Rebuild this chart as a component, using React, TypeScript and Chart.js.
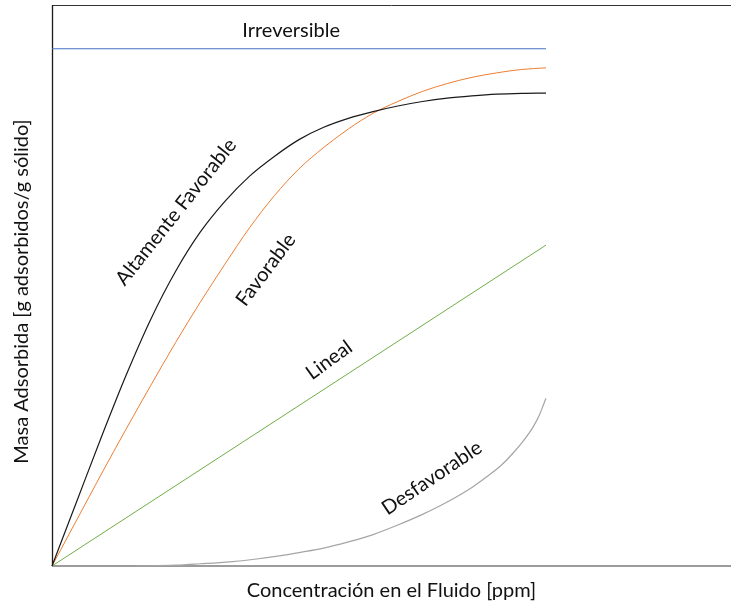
import React, { useEffect, useRef } from "react";
import { Chart, registerables } from "chart.js";

Chart.register(...registerables);

// Concentration (x) in relative units (0–100 spans the curves), mass adsorbed (y) 0–100
const altamenteX = [0, 5, 10, 15, 20, 25, 30, 35, 40, 45, 50, 55, 60, 65, 70, 75, 80, 85, 90, 95, 100];
const altamenteY = [0, 11.5, 23, 34, 44, 52.5, 59.5, 65, 69.5, 73, 76, 78.2, 79.8, 81, 82, 82.8, 83.4, 83.8, 84.1, 84.25, 84.3];

const favorableX = [0, 5, 10, 15, 20, 25, 30, 35, 40, 45, 50, 55, 60, 65, 70, 75, 80, 85, 90, 95, 100];
const favorableY = [0, 8.2, 16.4, 24.4, 32.2, 39.8, 47, 53.8, 60.3, 66, 70.8, 74.6, 77.9, 80.7, 82.8, 84.6, 86, 87.1, 87.9, 88.5, 88.8];

const linealX = [0, 100];
const linealY = [0, 57.2];

const desfavorableX = [17, 25, 30, 36, 41, 46, 50, 55, 60, 65, 70, 75, 80, 85, 88, 91, 93.3, 95.5, 97.4, 98.8, 99.5, 100];
const desfavorableY = [0, 0.15, 0.4, 0.75, 1.2, 1.8, 2.4, 3.2, 4.3, 5.6, 7.3, 9.2, 11.4, 14.0, 15.9, 18.0, 20.1, 22.4, 24.8, 27.2, 28.8, 29.9];

const irreversibleX = [0, 100];
const irreversibleY = [92.2, 92.2];

const X_MAX = 137.45;
const Y_MAX = 100;

const labelTexts = ["Altamente Favorable", "Favorable", "Lineal", "Desfavorable", "Irreversible"];
const labelX = [25.1, 43.3, 56.1, 76.9, 48.4];
const labelY = [63.1, 52.8, 36.7, 15.7, 95.4];
const labelAngle = [-51.5, -53, -36, -34, 0];

const xTitle = "Concentración en el Fluido [ppm]";
const yTitle = "Masa Adsorbida [g adsorbidos/g sólido]";

const FONT = "Lato, 'Open Sans', sans-serif";

const pts = (xs: number[], ys: number[]) => xs.map((x, i) => ({ x, y: ys[i] }));

const decorations = {
  id: "decorations",
  beforeDatasetsDraw(chart: any) {
    const { ctx, chartArea } = chart;
    const { left, right, top, bottom } = chartArea;
    ctx.save();
    ctx.strokeStyle = "#333333";
    ctx.lineWidth = 1;
    ctx.beginPath();
    ctx.moveTo(left, top + 0.5);
    ctx.lineTo(right, top + 0.5);
    ctx.stroke();
    ctx.strokeStyle = "#1a1a1a";
    ctx.lineWidth = 1.3;
    ctx.beginPath();
    ctx.moveTo(left + 0.5, top);
    ctx.lineTo(left + 0.5, bottom);
    ctx.stroke();
    ctx.strokeStyle = "#7a7a7a";
    ctx.lineWidth = 1.6;
    ctx.beginPath();
    ctx.moveTo(left, bottom);
    ctx.lineTo(right, bottom);
    ctx.stroke();
    ctx.restore();
  },
  afterDraw(chart: any) {
    const { ctx, chartArea, scales } = chart;
    const { left, right, top, bottom } = chartArea;
    ctx.save();
    ctx.fillStyle = "#111111";
    ctx.textAlign = "center";
    ctx.textBaseline = "middle";
    ctx.font = `20px ${FONT}`;
    labelTexts.forEach((t, i) => {
      const px = scales.x.getPixelForValue(labelX[i]);
      const py = scales.y.getPixelForValue(labelY[i]);
      ctx.save();
      ctx.translate(px, py);
      ctx.rotate((labelAngle[i] * Math.PI) / 180);
      ctx.fillText(t, 0, 0);
      ctx.restore();
    });
    ctx.fillText(xTitle, (left + right) / 2, bottom + 25);
    ctx.save();
    ctx.translate(22, (top + bottom) / 2 + 6);
    ctx.rotate(-Math.PI / 2);
    ctx.fillText(yTitle, 0, 0);
    ctx.restore();
    ctx.restore();
  },
};

export default function App() {
  const ref = useRef<HTMLCanvasElement | null>(null);
  useEffect(() => {
    document.body.style.margin = "0";
    if (!ref.current) return;
    const common = {
      pointRadius: 0,
      fill: false,
      cubicInterpolationMode: "monotone" as const,
      clip: false as any,
    };
    const chart = new Chart(ref.current, {
      type: "line",
      data: {
        datasets: [
          { ...common, label: "Irreversible", data: pts(irreversibleX, irreversibleY), borderColor: "#4472C4", borderWidth: 1 },
          { ...common, label: "Altamente Favorable", data: pts(altamenteX, altamenteY), borderColor: "#1a1a1a", borderWidth: 1.2 },
          { ...common, label: "Favorable", data: pts(favorableX, favorableY), borderColor: "#ED7D31", borderWidth: 1 },
          { ...common, label: "Lineal", data: pts(linealX, linealY), borderColor: "#70AD47", borderWidth: 1 },
          { ...common, label: "Desfavorable", data: pts(desfavorableX, desfavorableY), borderColor: "#A5A5A5", borderWidth: 1.2 },
        ],
      },
      options: {
        animation: false,
        responsive: true,
        maintainAspectRatio: false,
        layout: { padding: { left: 52, top: 5, right: 0, bottom: 39 } },
        plugins: { legend: { display: false }, tooltip: { enabled: false } },
        scales: {
          x: { type: "linear", min: 0, max: X_MAX, display: false },
          y: { type: "linear", min: 0, max: Y_MAX, display: false },
        },
      },
      plugins: [decorations],
    });
    return () => chart.destroy();
  }, []);
  return (
    <div style={{ width: 731, height: 605, position: "relative", background: "#fff" }}>
      <canvas ref={ref} />
    </div>
  );
}
